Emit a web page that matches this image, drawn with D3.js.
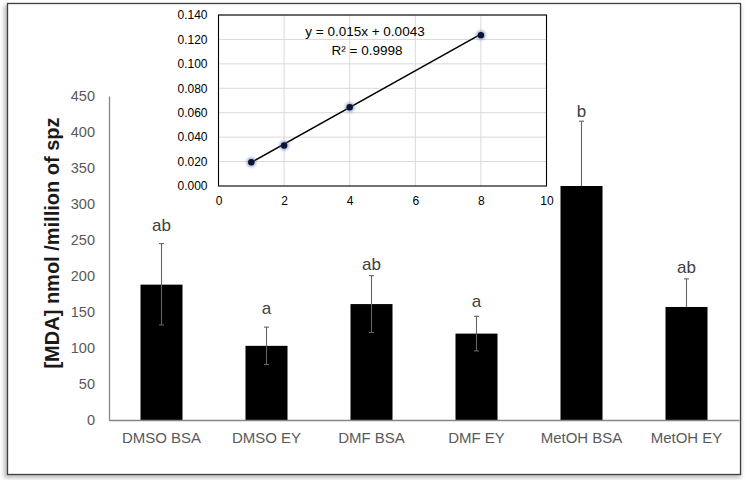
<!DOCTYPE html>
<html>
<head>
<meta charset="utf-8">
<script src="https://cdn.jsdelivr.net/npm/d3@7"></script>
<style>
  html, body { margin: 0; padding: 0; background: #fff; }
  svg { display: block; }
  text { font-family: "Liberation Sans", Arial, sans-serif; }
</style>
</head>
<body>
<svg id="chart" width="750" height="480"></svg>
<script>
// ---------- data ----------
const categories = ["DMSO BSA", "DMSO EY", "DMF BSA", "DMF EY", "MetOH BSA", "MetOH EY"];
const mdaValues  = [188, 103, 161, 120, 325, 157];
const errPlus    = [57, 26, 39.5, 24, 90, 39];
const errMinus   = [56, 26, 39.5, 24, 0, 0];
const letters    = ["ab", "a", "ab", "a", "b", "ab"];
const letterPos  = [263, 147, 208, 157, 421, 204];
const yTicks     = [0, 50, 100, 150, 200, 250, 300, 350, 400, 450];
const yTitle     = "[MDA] nmol /million of spz";

const stdX       = [1, 2, 4, 8];
const stdY       = [0.0194, 0.0332, 0.0645, 0.1235];
const insetXTicks = [0, 2, 4, 6, 8, 10];
const insetYTicks = [0, 0.02, 0.04, 0.06, 0.08, 0.10, 0.12, 0.14];
const fitSlope = 0.015, fitIntercept = 0.0043;
const eqText = "y = 0.015x + 0.0043";
const r2Text = "R² = 0.9998";

// ---------- setup ----------
const svg = d3.select("#chart");
const defs = svg.append("defs");
defs.append("filter").attr("id", "shadow").attr("x", "-5%").attr("y", "-5%").attr("width", "110%").attr("height", "110%")
  .append("feGaussianBlur").attr("stdDeviation", 2);
defs.append("filter").attr("id", "glow").attr("x", "-100%").attr("y", "-100%").attr("width", "300%").attr("height", "300%")
  .append("feGaussianBlur").attr("stdDeviation", 1.6);

// outer frame with shadow
svg.append("rect").attr("x", 4).attr("y", 5).attr("width", 737).attr("height", 473)
  .attr("fill", "#bdbdbd").attr("filter", "url(#shadow)");
svg.append("rect").attr("x", 7.5).attr("y", 3.5).attr("width", 733).attr("height", 471)
  .attr("fill", "#fff").attr("stroke", "#3f3f3f").attr("stroke-width", 1.3);

// ---------- main chart ----------
const x = d3.scaleBand().domain(categories).range([109, 739]).paddingInner(0.6).paddingOuter(0.3);
const y = d3.scaleLinear().domain([0, 450]).range([420, 96]);

// y axis
const yAxis = d3.axisLeft(y).tickValues(yTicks).tickSize(0).tickPadding(14);
const gy = svg.append("g").attr("transform", "translate(109,0)").call(yAxis);
gy.select(".domain").attr("stroke", "#868686").attr("stroke-width", 1.3);
gy.selectAll("text").attr("fill", "#595959").style("font-size", "14.5px");

// bars
svg.append("g").selectAll("rect").data(categories).join("rect")
  .attr("x", d => x(d))
  .attr("y", (d, i) => y(mdaValues[i]))
  .attr("width", x.bandwidth())
  .attr("height", (d, i) => y(0) - y(mdaValues[i]))
  .attr("fill", "#000");

// x axis
const xAxis = d3.axisBottom(x).tickSize(0).tickPadding(12);
const gx = svg.append("g").attr("transform", "translate(0,420)").call(xAxis);
gx.select(".domain").attr("stroke", "#868686").attr("stroke-width", 1.3);
gx.selectAll("text").attr("fill", "#595959").style("font-size", "15px");

// error bars
const eg = svg.append("g").attr("stroke", "#636363").attr("stroke-width", 1.1);
categories.forEach((c, i) => {
  const cx = x(c) + x.bandwidth() / 2;
  const top = y(mdaValues[i] + errPlus[i]);
  const bot = y(mdaValues[i] - errMinus[i]);
  eg.append("line").attr("x1", cx).attr("x2", cx).attr("y1", top).attr("y2", bot);
  eg.append("line").attr("x1", cx - 2.5).attr("x2", cx + 2.5).attr("y1", top).attr("y2", top);
  if (errMinus[i] > 0) {
    eg.append("line").attr("x1", cx - 2.5).attr("x2", cx + 2.5).attr("y1", bot).attr("y2", bot);
  }
});

// significance letters
svg.append("g").selectAll("text").data(categories).join("text")
  .attr("x", d => x(d) + x.bandwidth() / 2)
  .attr("y", (d, i) => y(letterPos[i]))
  .attr("text-anchor", "middle")
  .attr("fill", "#404040")
  .style("font-size", "17px")
  .text((d, i) => letters[i]);

// y title
svg.append("text")
  .attr("transform", "translate(52,243) rotate(-90)")
  .attr("text-anchor", "middle")
  .attr("dominant-baseline", "central")
  .attr("fill", "#1a1a1a")
  .style("font-size", "20px").style("font-weight", "bold")
  .text(yTitle);

// ---------- inset ----------
const ix = d3.scaleLinear().domain([0, 10]).range([218.5, 546.5]);
const iy = d3.scaleLinear().domain([0, 0.14]).range([186, 15]);
const inset = svg.append("g");

// gridlines
inset.append("g").selectAll("line.h").data(insetYTicks.slice(1)).join("line")
  .attr("x1", ix(0)).attr("x2", ix(10)).attr("y1", d => iy(d)).attr("y2", d => iy(d))
  .attr("stroke", "#d9d9d9").attr("stroke-width", 1);
inset.append("g").selectAll("line.v").data(insetXTicks.slice(1, -1)).join("line")
  .attr("x1", d => ix(d)).attr("x2", d => ix(d)).attr("y1", iy(0)).attr("y2", iy(0.14))
  .attr("stroke", "#d9d9d9").attr("stroke-width", 1);

// frame
inset.append("rect").attr("x", ix(0)).attr("y", iy(0.14))
  .attr("width", ix(10) - ix(0)).attr("height", iy(0) - iy(0.14))
  .attr("fill", "none").attr("stroke", "#000").attr("stroke-width", 1.1);

// axes labels
const iya = d3.axisLeft(iy).tickValues(insetYTicks).tickSize(0).tickPadding(11).tickFormat(d3.format(".3f"));
const giy = inset.append("g").attr("transform", `translate(${ix(0)},0)`).call(iya);
giy.select(".domain").remove();
giy.selectAll("text").attr("fill", "#000").style("font-size", "12px");
const ixa = d3.axisBottom(ix).tickValues(insetXTicks).tickSize(0).tickPadding(10).tickFormat(d3.format("d"));
const gix = inset.append("g").attr("transform", `translate(0,${iy(0)})`).call(ixa);
gix.select(".domain").remove();
gix.selectAll("text").attr("fill", "#000").style("font-size", "12px");

// trendline
const xMin = d3.min(stdX), xMax = d3.max(stdX);
inset.append("line")
  .attr("x1", ix(xMin)).attr("y1", iy(fitSlope * xMin + fitIntercept))
  .attr("x2", ix(xMax)).attr("y2", iy(fitSlope * xMax + fitIntercept))
  .attr("stroke", "#000").attr("stroke-width", 1.5);

// markers
inset.append("g").selectAll("circle").data(stdX).join("circle")
  .attr("cx", d => ix(d)).attr("cy", (d, i) => iy(stdY[i])).attr("r", 4.5)
  .attr("fill", "#5b78b0").attr("opacity", 0.7).attr("filter", "url(#glow)");
inset.append("g").selectAll("circle").data(stdX).join("circle")
  .attr("cx", d => ix(d)).attr("cy", (d, i) => iy(stdY[i])).attr("r", 3.2)
  .attr("fill", "#0b1433");

// equation
inset.append("text").attr("x", 365).attr("y", 36).attr("text-anchor", "middle")
  .attr("fill", "#000").style("font-size", "13.5px").text(eqText);
inset.append("text").attr("x", 367).attr("y", 55).attr("text-anchor", "middle")
  .attr("fill", "#000").style("font-size", "13.5px").text(r2Text);
</script>
</body>
</html>
